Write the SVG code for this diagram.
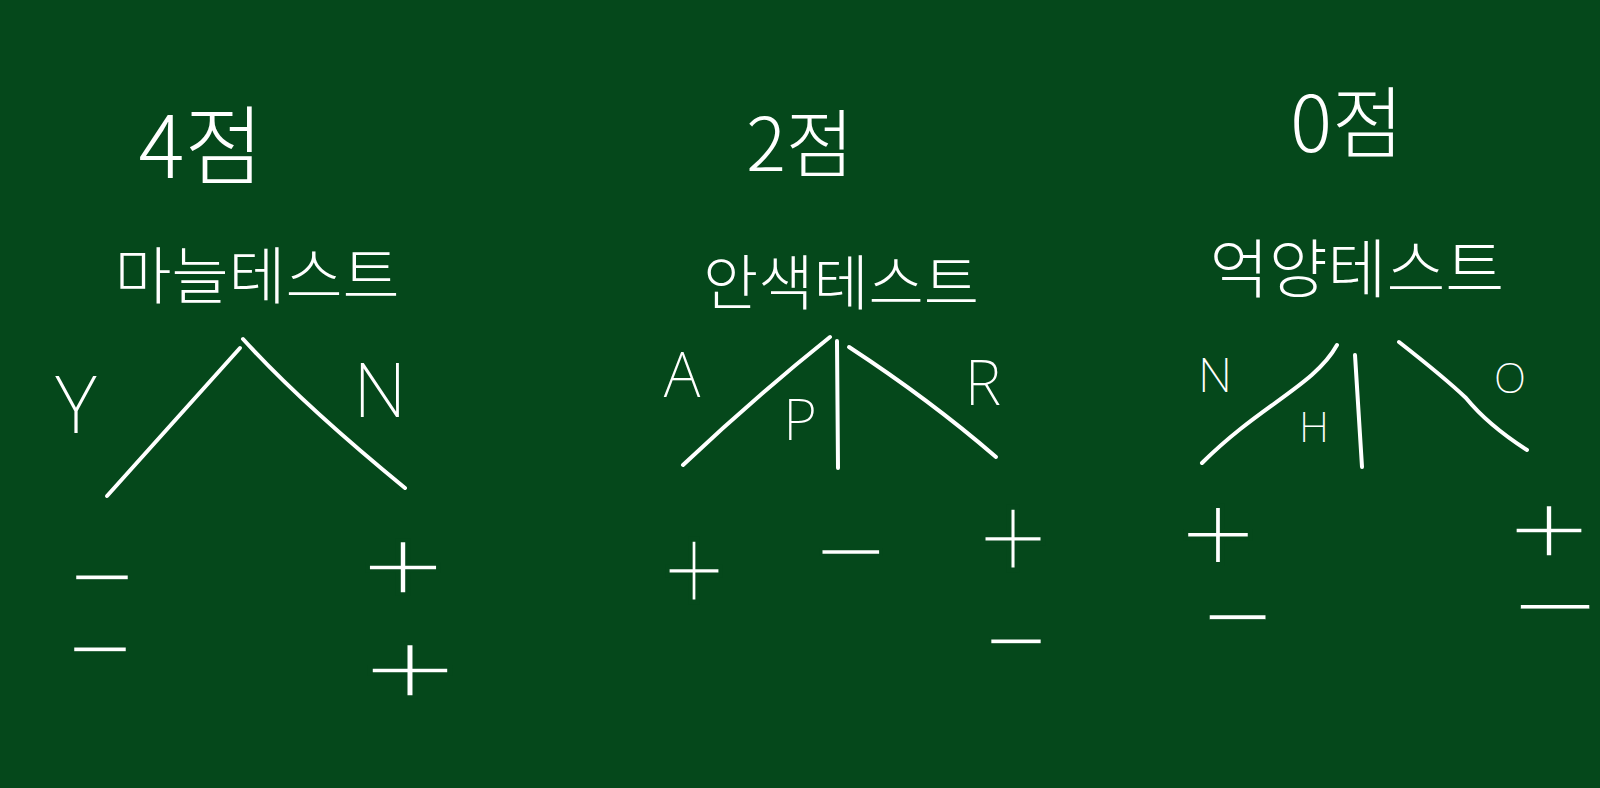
<svg xmlns="http://www.w3.org/2000/svg" width="1600" height="788" viewBox="0 0 1600 788">
<style>
.bg{fill:#05481b}
.br{fill:none;stroke:#ffffff;stroke-width:4;stroke-linecap:round;stroke-linejoin:round}
.ko{font-family:"Noto Sans CJK KR","Noto Sans",sans-serif;fill:#ffffff;text-anchor:middle;font-weight:300}
.lt{font-family:"Noto Sans","Liberation Sans",sans-serif;fill:#ffffff;text-anchor:middle;font-weight:200}
.sg{font-family:"DejaVu Sans",sans-serif;font-weight:400;fill:#ffffff;stroke:#05481b;text-anchor:middle}
</style>
<rect class="bg" x="0" y="0" width="1600" height="788"/>
<g id="connectors">
<path class="br" d="M240,348 L107,496"/>
<path class="br" d="M243,339 Q300,402 405,488"/>
<path class="br" d="M830,337 Q755,397 683,465"/>
<path class="br" d="M837,341 L838,468"/>
<path class="br" d="M849,347 Q930,400 996,457"/>
<path class="br" d="M1337,345 C1315,385 1260,405 1202,463"/>
<path class="br" d="M1355,355 L1362,467"/>
<path class="br" d="M1399,342 Q1445,378 1466,398 Q1488,425 1527,450"/>
</g>
<g id="garlic-test">
<text class="ko" x="201" y="178" font-size="86">4점</text>
<text class="ko" x="257" y="299" font-size="62">마늘테스트</text>
</g>
<g id="garlic-y">
<text class="lt" x="76" y="433" font-size="80">Y</text>
<text class="sg" x="102" y="595" font-size="56" textLength="71" lengthAdjust="spacingAndGlyphs" stroke-width="1">−</text>
<text class="sg" x="100" y="667" font-size="56" textLength="71" lengthAdjust="spacingAndGlyphs" stroke-width="1">−</text>
</g>
<g id="garlic-n">
<text class="lt" x="380" y="417" font-size="75">N</text>
<text class="sg" x="403" y="594" font-size="86" textLength="95" lengthAdjust="spacingAndGlyphs" stroke-width="3.7">+</text>
<text class="sg" x="410" y="697" font-size="86" textLength="107" lengthAdjust="spacingAndGlyphs" stroke-width="3.7">+</text>
</g>
<g id="complexion-test">
<text class="ko" x="800" y="171" font-size="74">2점</text>
<text class="ko" x="841" y="305" font-size="60">안색테스트</text>
</g>
<g id="complexion-a">
<text class="lt" x="682" y="397" font-size="62">A</text>
<text class="sg" x="694" y="602" font-size="100" textLength="71" lengthAdjust="spacingAndGlyphs" stroke-width="5">+</text>
</g>
<g id="complexion-p">
<text class="lt" x="800" y="440" font-size="58">P</text>
<text class="sg" x="851" y="574" font-size="70" textLength="80" lengthAdjust="spacingAndGlyphs" stroke-width="2.3">−</text>
</g>
<g id="complexion-r">
<text class="lt" x="983" y="405" font-size="62">R</text>
<text class="sg" x="1013" y="570" font-size="100" textLength="80" lengthAdjust="spacingAndGlyphs" stroke-width="5">+</text>
<text class="sg" x="1016" y="659" font-size="56" textLength="68" lengthAdjust="spacingAndGlyphs" stroke-width="1">−</text>
</g>
<g id="intonation-test">
<text class="ko" x="1347" y="152" font-size="78">0점</text>
<text class="ko" x="1357" y="292" font-size="64">억양테스트</text>
</g>
<g id="intonation-n">
<text class="lt" x="1215" y="392" font-size="48">N</text>
<text class="sg" x="1218" y="564" font-size="92" textLength="86" lengthAdjust="spacingAndGlyphs" stroke-width="4.2">+</text>
<text class="sg" x="1238" y="633" font-size="50" textLength="76" lengthAdjust="spacingAndGlyphs" stroke-width="0.5">−</text>
</g>
<g id="intonation-h">
<text class="lt" x="1314" y="442" font-size="42">H</text>
</g>
<g id="intonation-o">
<text class="lt" x="1510" y="393" font-size="42">O</text>
<text class="sg" x="1549" y="557" font-size="84" textLength="93" lengthAdjust="spacingAndGlyphs" stroke-width="3.6">+</text>
<text class="sg" x="1555" y="621" font-size="46" textLength="92" lengthAdjust="spacingAndGlyphs" stroke-width="0.2">−</text>
</g>
</svg>
